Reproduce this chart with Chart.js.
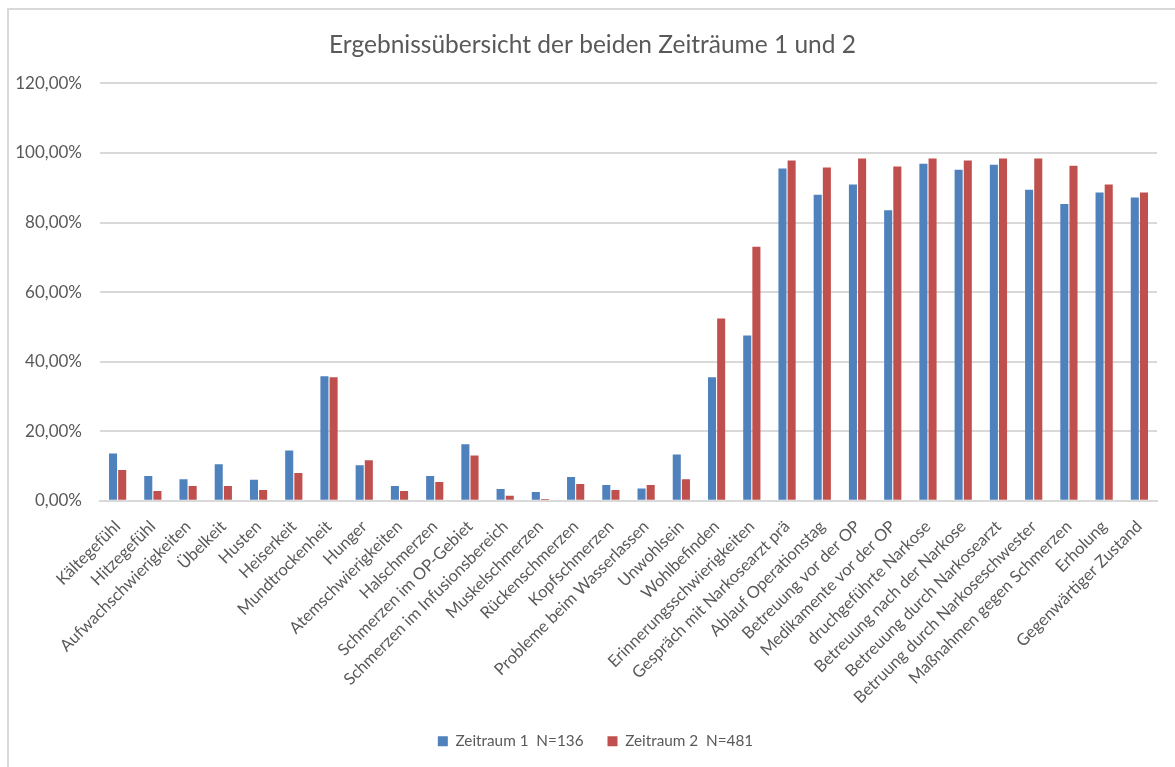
<!DOCTYPE html>
<html>
<head>
<meta charset="utf-8">
<script src="https://cdn.jsdelivr.net/npm/chart.js@4.4.1/dist/chart.umd.min.js"></script>
<style>
  html, body { margin: 0; padding: 0; background: #ffffff; }
  #wrap { position: relative; width: 1175px; height: 767px; overflow: hidden; }
  #frame { position: absolute; left: 7px; top: 8px; width: 1200px; height: 800px;
           border-left: 2px solid #d9d9d9; border-top: 2px solid #d9d9d9; }
  canvas { position: absolute; left: 0; top: 0; }
</style>
</head>
<body>
<div id="wrap">
  <div id="frame"></div>
  <canvas id="c" width="1175" height="767"></canvas>
</div>
<script>
const categories = [
  "Kältegefühl", "Hitzegefühl", "Aufwachschwierigkeiten", "Übelkeit", "Husten",
  "Heiserkeit", "Mundtrockenheit", "Hunger", "Atemschwierigkeiten", "Halschmerzen",
  "Schmerzen im OP-Gebiet", "Schmerzen im Infusionsbereich", "Muskelschmerzen",
  "Rückenschmerzen", "Kopfschmerzen", "Probleme beim Wasserlassen", "Unwohlsein",
  "Wohlbefinden", "Erinnerungsschwierigkeiten", "Gespräch mit Narkosearzt prä",
  "Ablauf Operationstag", "Betreuung vor der OP", "Medikamente vor der OP",
  "druchgeführte Narkose", "Betreuung nach der Narkose", "Betreuung durch Narkosearzt",
  "Betruung durch Narkoseschwester", "Maßnahmen gegen Schmerzen", "Erholung",
  "Gegenwärtiger Zustand"
];
const seriesNames = ["Zeitraum 1  N=136", "Zeitraum 2  N=481"];
const zeitraum1 = [13.6, 7.1, 6.2, 10.5, 6.0, 14.4, 35.8, 10.2, 4.2, 7.1,
                   16.2, 3.4, 2.5, 6.8, 4.5, 3.5, 13.3, 35.5, 47.5, 95.5,
                   88.0, 90.9, 83.5, 96.9, 95.2, 96.6, 89.4, 85.3, 88.6, 87.2];
const zeitraum2 = [8.8, 2.8, 4.2, 4.2, 3.1, 8.0, 35.5, 11.6, 2.8, 5.4,
                   13.0, 1.4, 0.5, 4.8, 3.1, 4.5, 6.2, 52.4, 73.0, 97.8,
                   95.8, 98.4, 96.1, 98.4, 97.8, 98.4, 98.4, 96.3, 90.9, 88.6];
const yTicks = [0, 20, 40, 60, 80, 100, 120];
const chartTitle = "Ergebnissübersicht der beiden Zeiträume 1 und 2";

const FONT = "Lato, 'Open Sans', sans-serif";
const TXT = "#595959";

// Shift title and legend horizontally to match the reference centring
const shiftBoxes = {
  id: "shiftBoxes",
  afterLayout(chart) {
    if (chart.titleBlock) { chart.titleBlock.left += 14; chart.titleBlock.right += 14; }
    if (chart.legend) { chart.legend.left += 17; chart.legend.right += 17; }
  }
};

new Chart(document.getElementById("c"), {
  type: "bar",
  data: {
    labels: categories,
    datasets: [
      { label: seriesNames[0], data: zeitraum1, backgroundColor: "#4F81BD",
        categoryPercentage: 0.52, barPercentage: 0.88 },
      { label: seriesNames[1], data: zeitraum2, backgroundColor: "#C0504D",
        categoryPercentage: 0.52, barPercentage: 0.88 }
    ]
  },
  plugins: [shiftBoxes],
  options: {
    responsive: false,
    animation: false,
    devicePixelRatio: 1,
    layout: { padding: { left: 0, right: 18, top: 0, bottom: 8 } },
    plugins: {
      title: {
        display: true, text: chartTitle, color: TXT,
        font: { family: FONT, size: 24.5, weight: "normal" },
        padding: { top: 30, bottom: 24 }
      },
      legend: {
        position: "bottom",
        labels: {
          color: TXT, font: { family: FONT, size: 15.3 },
          boxWidth: 10, boxHeight: 10, padding: 24
        }
      },
      tooltip: { enabled: false }
    },
    scales: {
      x: {
        grid: { display: false, drawTicks: false },
        border: { display: true, color: "#d9d9d9", width: 2 },
        ticks: {
          color: TXT, font: { family: FONT, size: 16.5 },
          maxRotation: 45, minRotation: 45, autoSkip: false, padding: 16
        },
        afterFit: (s) => { s.height = 209; }
      },
      y: {
        min: 0, max: 120,
        afterBuildTicks: (s) => { s.ticks = yTicks.map(v => ({ value: v })); },
        grid: { color: "#d9d9d9", lineWidth: 2, drawTicks: false },
        border: { display: false },
        ticks: {
          color: TXT, font: { family: FONT, size: 17 }, padding: 18,
          callback: (v) => v.toFixed(2).replace(".", ",") + "%"
        },
        afterFit: (s) => { s.width = 100; }
      }
    }
  }
});
</script>
</body>
</html>
